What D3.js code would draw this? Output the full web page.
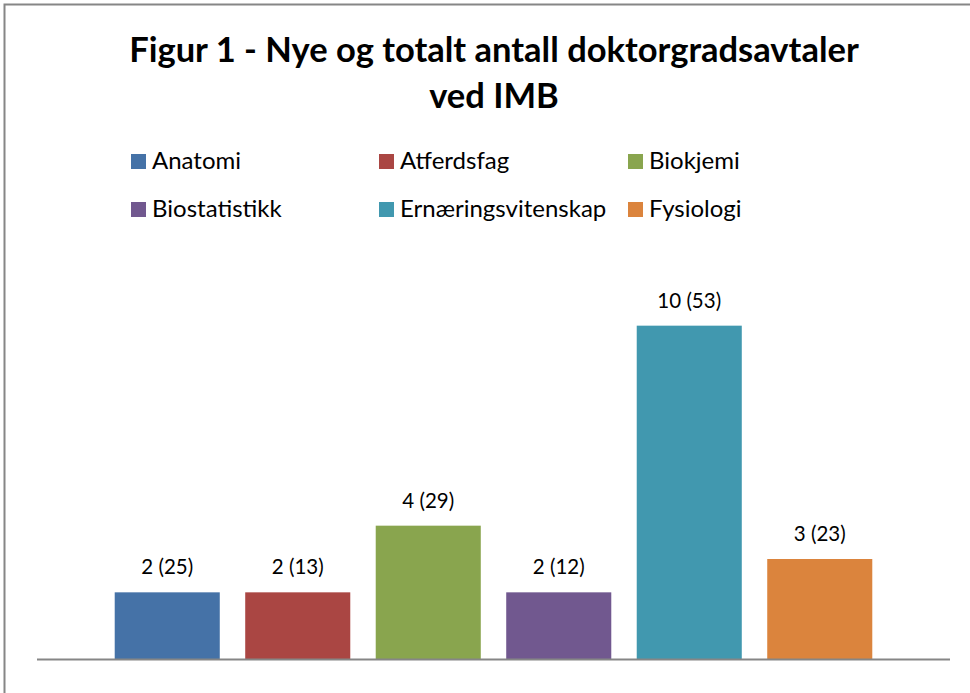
<!DOCTYPE html>
<html>
<head>
<meta charset="utf-8">
<script src="https://cdn.jsdelivr.net/npm/d3@7"></script>
<style>
  body { margin: 0; background: #fff; }
  svg { display: block; font-family: Lato, "Open Sans", sans-serif; }
</style>
</head>
<body>
<script>
const titleLines = ["Figur 1 - Nye og totalt antall doktorgradsavtaler", "ved IMB"];
const categories = ["Anatomi", "Atferdsfag", "Biokjemi", "Biostatistikk", "Ernæringsvitenskap", "Fysiologi"];
const newCount = [2, 2, 4, 2, 10, 3];
const totalCount = [25, 13, 29, 12, 53, 23];
const colors = ["#4572A7", "#AA4643", "#89A54E", "#71588F", "#4198AF", "#DB843D"];

const width = 970, height = 693;
const plot = {left: 37, right: 950, top: 259, bottom: 659};

const data = categories.map((c, i) => ({name: c, n: newCount[i], total: totalCount[i], color: colors[i]}));

const svg = d3.select("body").append("svg")
  .attr("width", width)
  .attr("height", height);

// chart border
svg.append("rect")
  .attr("x", 4.5).attr("y", 4.5)
  .attr("width", width + 10).attr("height", height + 10)
  .attr("fill", "#fff")
  .attr("stroke", "#868686")
  .attr("stroke-width", 2);

// title
svg.append("g")
  .selectAll("text")
  .data(titleLines)
  .enter()
  .append("text")
  .attr("x", 494)
  .attr("y", (d, i) => 62 + i * 46)
  .attr("text-anchor", "middle")
  .attr("font-size", 34.5)
  .attr("font-weight", "bold")
  .attr("fill", "#000")
  .text(d => d);

// legend
const legendCols = [131, 379, 628];
const legend = svg.append("g")
  .selectAll("g")
  .data(data)
  .enter()
  .append("g")
  .attr("transform", (d, i) => `translate(${legendCols[i % 3]}, ${169 + Math.floor(i / 3) * 48})`);

legend.append("rect")
  .attr("x", 0).attr("y", -15)
  .attr("width", 15).attr("height", 15)
  .attr("fill", d => d.color);

legend.append("text")
  .attr("x", 21)
  .attr("y", 0)
  .attr("font-size", 24)
  .attr("fill", "#000")
  .text(d => d.name);

// scales
const xScale = d3.scaleBand()
  .domain(categories)
  .range([plot.left, plot.right])
  .paddingInner(0.195)
  .paddingOuter(0.5955);

const yScale = d3.scaleLinear()
  .domain([0, 12])
  .range([plot.bottom, plot.top]);

// bars
svg.append("g")
  .selectAll("rect")
  .data(data)
  .enter()
  .append("rect")
  .attr("x", d => xScale(d.name))
  .attr("y", d => yScale(d.n))
  .attr("width", xScale.bandwidth())
  .attr("height", d => yScale(0) - yScale(d.n))
  .attr("fill", d => d.color);

// value labels
svg.append("g")
  .selectAll("text")
  .data(data)
  .enter()
  .append("text")
  .attr("x", d => xScale(d.name) + xScale.bandwidth() / 2)
  .attr("y", d => yScale(d.n) - 18)
  .attr("text-anchor", "middle")
  .attr("font-size", 20.5)
  .attr("fill", "#000")
  .text(d => `${d.n} (${d.total})`);

// baseline
svg.append("line")
  .attr("x1", plot.left).attr("x2", plot.right)
  .attr("y1", yScale(0) + 0.5).attr("y2", yScale(0) + 0.5)
  .attr("stroke", "#868686")
  .attr("stroke-width", 2);
</script>
</body>
</html>
